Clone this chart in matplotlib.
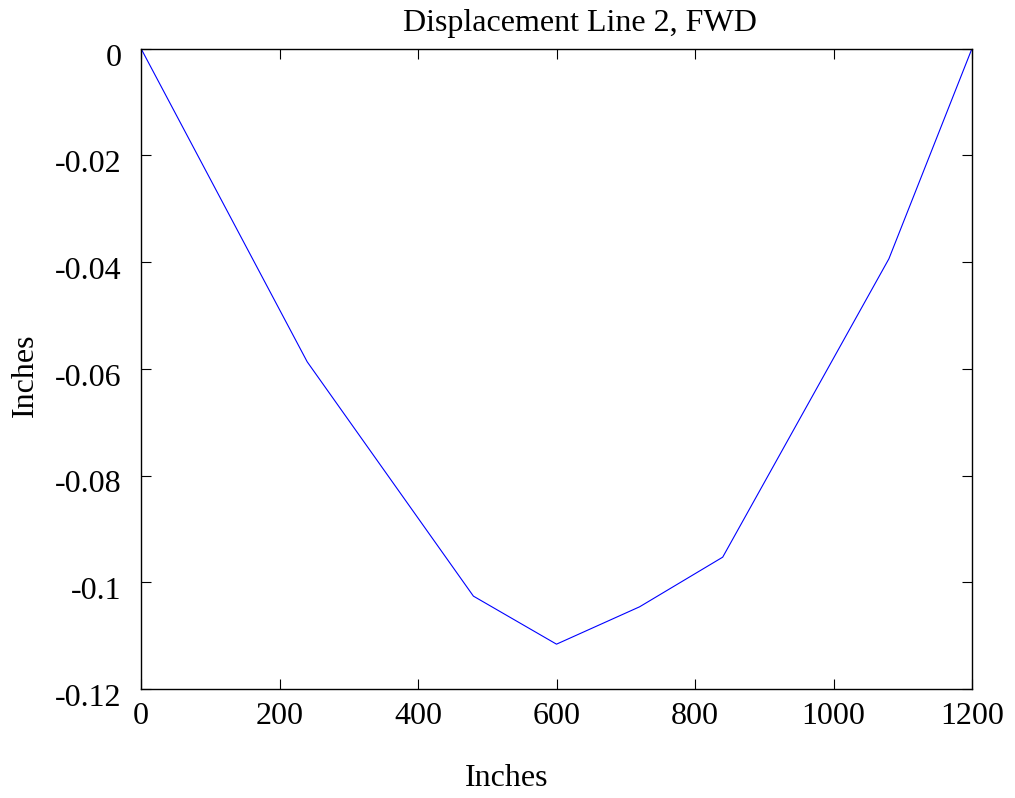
import matplotlib
matplotlib.use('Agg')
import matplotlib.pyplot as plt
import matplotlib.transforms as mtransforms

# Displacement along line 2 (FWD)
x_in = [0, 240, 480, 600, 720, 840, 1080, 1200]
disp = [0, -0.0587, -0.1026, -0.1116, -0.1046, -0.0953, -0.0394, 0]

x_ticks = [0, 200, 400, 600, 800, 1000, 1200]
y_ticks = [0, -0.02, -0.04, -0.06, -0.08, -0.1, -0.12]
y_tick_labels = ['0', '-0.02', '-0.04', '-0.06', '-0.08', '-0.1', '-0.12']

plt.rcParams['font.family'] = ['Liberation Serif', 'DejaVu Serif']

fig = plt.figure(figsize=(10.15, 7.98), dpi=100)
ax = fig.add_axes([141 / 1015, 1 - 689 / 798, (972 - 141) / 1015, (689 - 48.5) / 798])

ax.plot(x_in, disp, color='#0000ff', linewidth=0.8)

ax.set_xlim(0, 1200)
ax.set_ylim(-0.12, 0)
ax.set_xticks(x_ticks)
ax.set_xticklabels([str(v) for v in x_ticks])
ax.set_yticks(y_ticks)
ax.set_yticklabels(y_tick_labels)

ax.tick_params(direction='in', length=7, width=0.8, labelsize=23,
               top=True, right=True, pad=9)
ax.tick_params(axis='y', pad=14)
for s in ax.spines.values():
    s.set_linewidth(1.0)

# gnuplot puts y labels slightly below the tick
off = mtransforms.ScaledTranslation(0, -6 / 100, fig.dpi_scale_trans)
for lab in ax.get_yticklabels():
    lab.set_transform(lab.get_transform() + off)

fig.text(580 / 1015, 1 - 23 / 798, 'Displacement Line 2, FWD',
         ha='center', va='center', fontsize=23)
fig.text(507 / 1015, 1 - 779 / 798, 'Inches', ha='center', va='center', fontsize=23)
fig.text(25 / 1015, 1 - 375 / 798, 'Inches', ha='center', va='center',
         rotation=90, fontsize=23)

fig.savefig('out.png', dpi=100)
